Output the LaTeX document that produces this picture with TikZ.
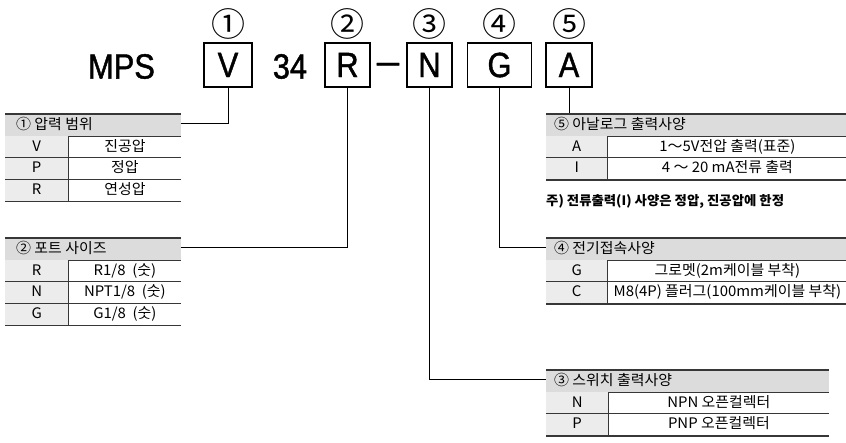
\documentclass[tikz,border=0pt]{standalone}
\usepackage{fontspec}
\usepackage{tikz}
\usepackage{colortbl}
\usetikzlibrary{positioning}

\setmainfont{Noto Sans CJK KR}[FakeStretch=1.03]
\newfontfamily\bigfont{Liberation Sans}[FakeStretch=0.88, FakeBold=1.2]

\definecolor{hdgray}{RGB}{220,220,220}
\definecolor{keygray}{RGB}{236,236,236}
\definecolor{rulegray}{RGB}{55,55,55}

\setlength{\tabcolsep}{0pt}
\renewcommand{\arraystretch}{1.2}
\newcommand{\heavyline}{\noalign{\global\arrayrulewidth=1.5pt}\hline\noalign{\global\arrayrulewidth=0.7pt}}

\tikzset{
  codebox/.style={draw, line width=1.4pt, minimum height=44pt, minimum width=45pt,
    inner sep=0pt, font=\bigfont\fontsize{35}{35}\selectfont},
  bigtext/.style={inner sep=0pt, font=\bigfont\fontsize{35}{35}\selectfont},
  circnum/.style={inner sep=0pt, font=\fontsize{33}{33}\selectfont},
  spec/.style={inner sep=0pt, anchor=north west, font=\fontsize{14.5}{17.5}\selectfont},
  link/.style={draw, line width=0.8pt}
}

\begin{document}
\begin{tikzpicture}[x=1pt, y=-1pt]
\useasboundingbox (0,0) rectangle (846,443);
\arrayrulecolor{rulegray}

% model code
\node (mps) [bigtext] at (121.5,66.5) {MPS};
\node (boxV) [codebox, minimum width=48pt] at (228,65) {V};
\node (num) [bigtext] at (290,66.5) {34};
\node (boxR) [codebox] at (347.5,65) {R};
\node (dash) [bigtext] at (388,68) {\scalebox{1.3}[1]{–}};
\node (boxN) [codebox] at (429.5,65) {N};
\node (boxG) [codebox, minimum width=64pt] at (499.5,65) {G};
\node (boxA) [codebox, minimum width=46pt] at (569,65) {A};

\node (c1) [circnum] at (228,24) {①};
\node (c2) [circnum] at (347.5,24) {②};
\node (c3) [circnum] at (429.5,24) {③};
\node (c4) [circnum] at (499.5,24) {④};
\node (c5) [circnum] at (569,24) {⑤};

% option tables
\node (tabA) [spec] at (5,113) {
\begin{tabular}{>{\columncolor{keygray}\centering\arraybackslash}p{63pt}|>{\centering\arraybackslash}p{112pt}}
\heavyline
\rowcolor{hdgray}\multicolumn{2}{l}{\hspace{11pt}① 압력 범위} \\ \hline
V & 진공압 \\ \hline
P & 정압 \\ \hline
R & 연성압 \\ \heavyline
\end{tabular}
};

\node (tabB) [spec] at (5,237) {
\begin{tabular}{>{\columncolor{keygray}\centering\arraybackslash}p{63pt}|>{\centering\arraybackslash}p{112pt}}
\heavyline
\rowcolor{hdgray}\multicolumn{2}{l}{\hspace{11pt}② 포트 사이즈} \\ \hline
R & R1/8 \ (숫) \\ \hline
N & NPT1/8 \ (숫) \\ \hline
G & G1/8 \ (숫) \\ \heavyline
\end{tabular}
};

\node (tabE) [spec] at (546,113) {
\begin{tabular}{>{\columncolor{keygray}\centering\arraybackslash}p{61pt}|>{\centering\arraybackslash}p{239pt}}
\heavyline
\rowcolor{hdgray}\multicolumn{2}{l}{\hspace{8pt}⑤ 아날로그 출력사양} \\ \hline
A & 1～5V전압 출력(표준) \\ \hline
I & 4 ～ 20 mA전류 출력 \\ \heavyline
\end{tabular}
};
\node (note) [inner sep=0pt, anchor=north west, font=\bfseries\fontsize{13}{15}\selectfont]
  at ([yshift=-14pt]tabE.south west) {주) 전류출력(I) 사양은 정압, 진공압에 한정};

\node (tabD) [spec] at (546,237) {
\begin{tabular}{>{\columncolor{keygray}\centering\arraybackslash}p{61pt}|>{\centering\arraybackslash}p{239pt}}
\heavyline
\rowcolor{hdgray}\multicolumn{2}{l}{\hspace{8pt}④ 전기접속사양} \\ \hline
G & 그로멧(2m케이블 부착) \\ \hline
C & M8(4P) 플러그(100mm케이블 부착) \\ \heavyline
\end{tabular}
};

\node (tabC) [spec] at (546,369) {
\begin{tabular}{>{\columncolor{keygray}\centering\arraybackslash}p{62pt}|>{\centering\arraybackslash}p{220pt}}
\heavyline
\rowcolor{hdgray}\multicolumn{2}{l}{\hspace{8pt}③ 스위치 출력사양} \\ \hline
N & NPN 오픈컬렉터 \\ \hline
P & PNP 오픈컬렉터 \\ \heavyline
\end{tabular}
};

% leader lines
\draw [link] (boxV.south) |- ([yshift=-10.5pt]tabA.north east);
\draw [link] (boxR.south) |- ([yshift=-10.5pt]tabB.north east);
\draw [link] (boxN.south) |- ([yshift=-10.5pt]tabC.north west);
\draw [link] (boxG.south) |- ([yshift=-10.5pt]tabD.north west);
\draw [link] (boxA.south) -- (boxA.south |- tabE.north);
\end{tikzpicture}
\end{document}
